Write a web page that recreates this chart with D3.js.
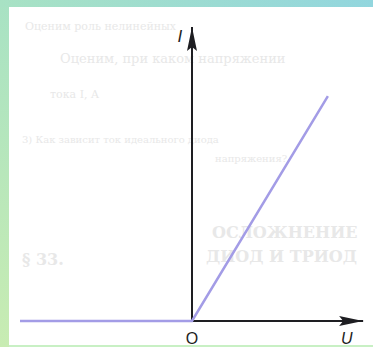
<!DOCTYPE html>
<html>
<head>
<meta charset="utf-8">
<script src="https://cdn.jsdelivr.net/npm/d3@7"></script>
<style>
  body { margin: 0; background: #ffffff; }
  svg { display: block; }
</style>
</head>
<body>
<div id="chart"></div>
<script>
// вольт-амперная характеристика (U, I)
var uValues = [-1, 0, 0.79];
var iValues = [0, 0, 0.765];
var axisLabels = ["I", "O", "U"];
// бледный текст страницы за графиком
var pageLines = [
  "Оценим роль нелинейных",
  "Оценим, при каком напряжении",
  "тока  I, A",
  "3)  Как зависит ток идеального диода",
  "напряжения?",
  "ОСЛОЖНЕНИЕ",
  "ДИОД И ТРИОД",
  "§ 33."
];

var W = 373, H = 347;
var svg = d3.select("#chart").append("svg")
  .attr("width", W)
  .attr("height", H);

var defs = svg.append("defs");
var gLeft = defs.append("linearGradient").attr("id", "gLeft")
  .attr("x1", 0).attr("y1", 0).attr("x2", 0).attr("y2", 1);
gLeft.append("stop").attr("offset", 0).attr("stop-color", "#a8e2c4");
gLeft.append("stop").attr("offset", 1).attr("stop-color", "#c8ecb2");
var gTop = defs.append("linearGradient").attr("id", "gTop")
  .attr("x1", 0).attr("y1", 0).attr("x2", 1).attr("y2", 0);
gTop.append("stop").attr("offset", 0).attr("stop-color", "#a8e2c4");
gTop.append("stop").attr("offset", 1).attr("stop-color", "#92d6de");

// рамка слайда
svg.append("rect").attr("width", W).attr("height", H).attr("fill", "url(#gLeft)");
svg.append("rect").attr("width", W).attr("height", 7).attr("fill", "url(#gTop)");
svg.append("rect").attr("x", 9).attr("y", 7).attr("width", W - 9).attr("height", 338)
  .attr("fill", "#ffffff");
svg.append("rect").attr("x", 9).attr("y", 345).attr("width", W - 9).attr("height", 2)
  .attr("fill", "#c8f0c4");

// фон страницы
var pageY = [30, 63, 98, 143, 162, 238, 262, 265];
var pageX = [25, 60, 50, 22, 215, 212, 206, 22];
var pageSize = [11, 13, 11, 10, 10, 16, 16, 16];
svg.append("g")
  .selectAll("text")
  .data(pageLines)
  .enter().append("text")
  .attr("x", function(d, i) { return pageX[i]; })
  .attr("y", function(d, i) { return pageY[i]; })
  .attr("font-family", "DejaVu Serif")
  .attr("font-size", function(d, i) { return pageSize[i]; })
  .attr("font-weight", function(d, i) { return i >= 5 ? "bold" : "normal"; })
  .attr("fill", "#e8e8e8")
  .text(function(d) { return d; });

// шкалы
var x = d3.scaleLinear().domain([-1, 1]).range([20, 364]);
var y = d3.scaleLinear().domain([0, 1]).range([321, 27]);

// стрелки
defs.append("marker")
  .attr("id", "arrow")
  .attr("viewBox", "0 -5 24 10")
  .attr("refX", 24).attr("refY", 0)
  .attr("markerWidth", 24).attr("markerHeight", 10)
  .attr("markerUnits", "userSpaceOnUse")
  .attr("orient", "auto")
  .append("path")
  .attr("d", "M0,-5L24,0L0,5L4,0Z")
  .attr("fill", "#1e1e22");

var axes = svg.append("g");
axes.append("line")
  .attr("x1", x(0)).attr("y1", y(0))
  .attr("x2", x(0)).attr("y2", y(1))
  .attr("stroke", "#1e1e22").attr("stroke-width", 2)
  .attr("marker-end", "url(#arrow)");
axes.append("line")
  .attr("x1", x(0)).attr("y1", y(0))
  .attr("x2", x(0.995)).attr("y2", y(0))
  .attr("stroke", "#1e1e22").attr("stroke-width", 2)
  .attr("marker-end", "url(#arrow)");

// характеристика
var pts = uValues.map(function(u, i) { return [u, iValues[i]]; });
var line = d3.line()
  .x(function(d) { return x(d[0]); })
  .y(function(d) { return y(d[1]); });
svg.append("path")
  .datum(pts)
  .attr("d", line)
  .attr("fill", "none")
  .attr("stroke", "#a39ce6")
  .attr("stroke-width", 2.5);

// подписи осей
var lab = svg.append("g")
  .attr("font-family", "Liberation Sans")
  .attr("fill", "#1e1e22");
lab.append("text")
  .attr("x", x(-0.07)).attr("y", y(0.95))
  .attr("font-size", 17).attr("font-style", "italic")
  .attr("text-anchor", "middle")
  .text(axisLabels[0]);
lab.append("text")
  .attr("x", x(0)).attr("y", y(0) + 23)
  .attr("font-size", 16)
  .attr("text-anchor", "middle")
  .text(axisLabels[1]);
lab.append("text")
  .attr("x", x(0.9)).attr("y", y(0) + 23)
  .attr("font-size", 16).attr("font-style", "italic")
  .attr("text-anchor", "middle")
  .text(axisLabels[2]);
</script>
</body>
</html>
